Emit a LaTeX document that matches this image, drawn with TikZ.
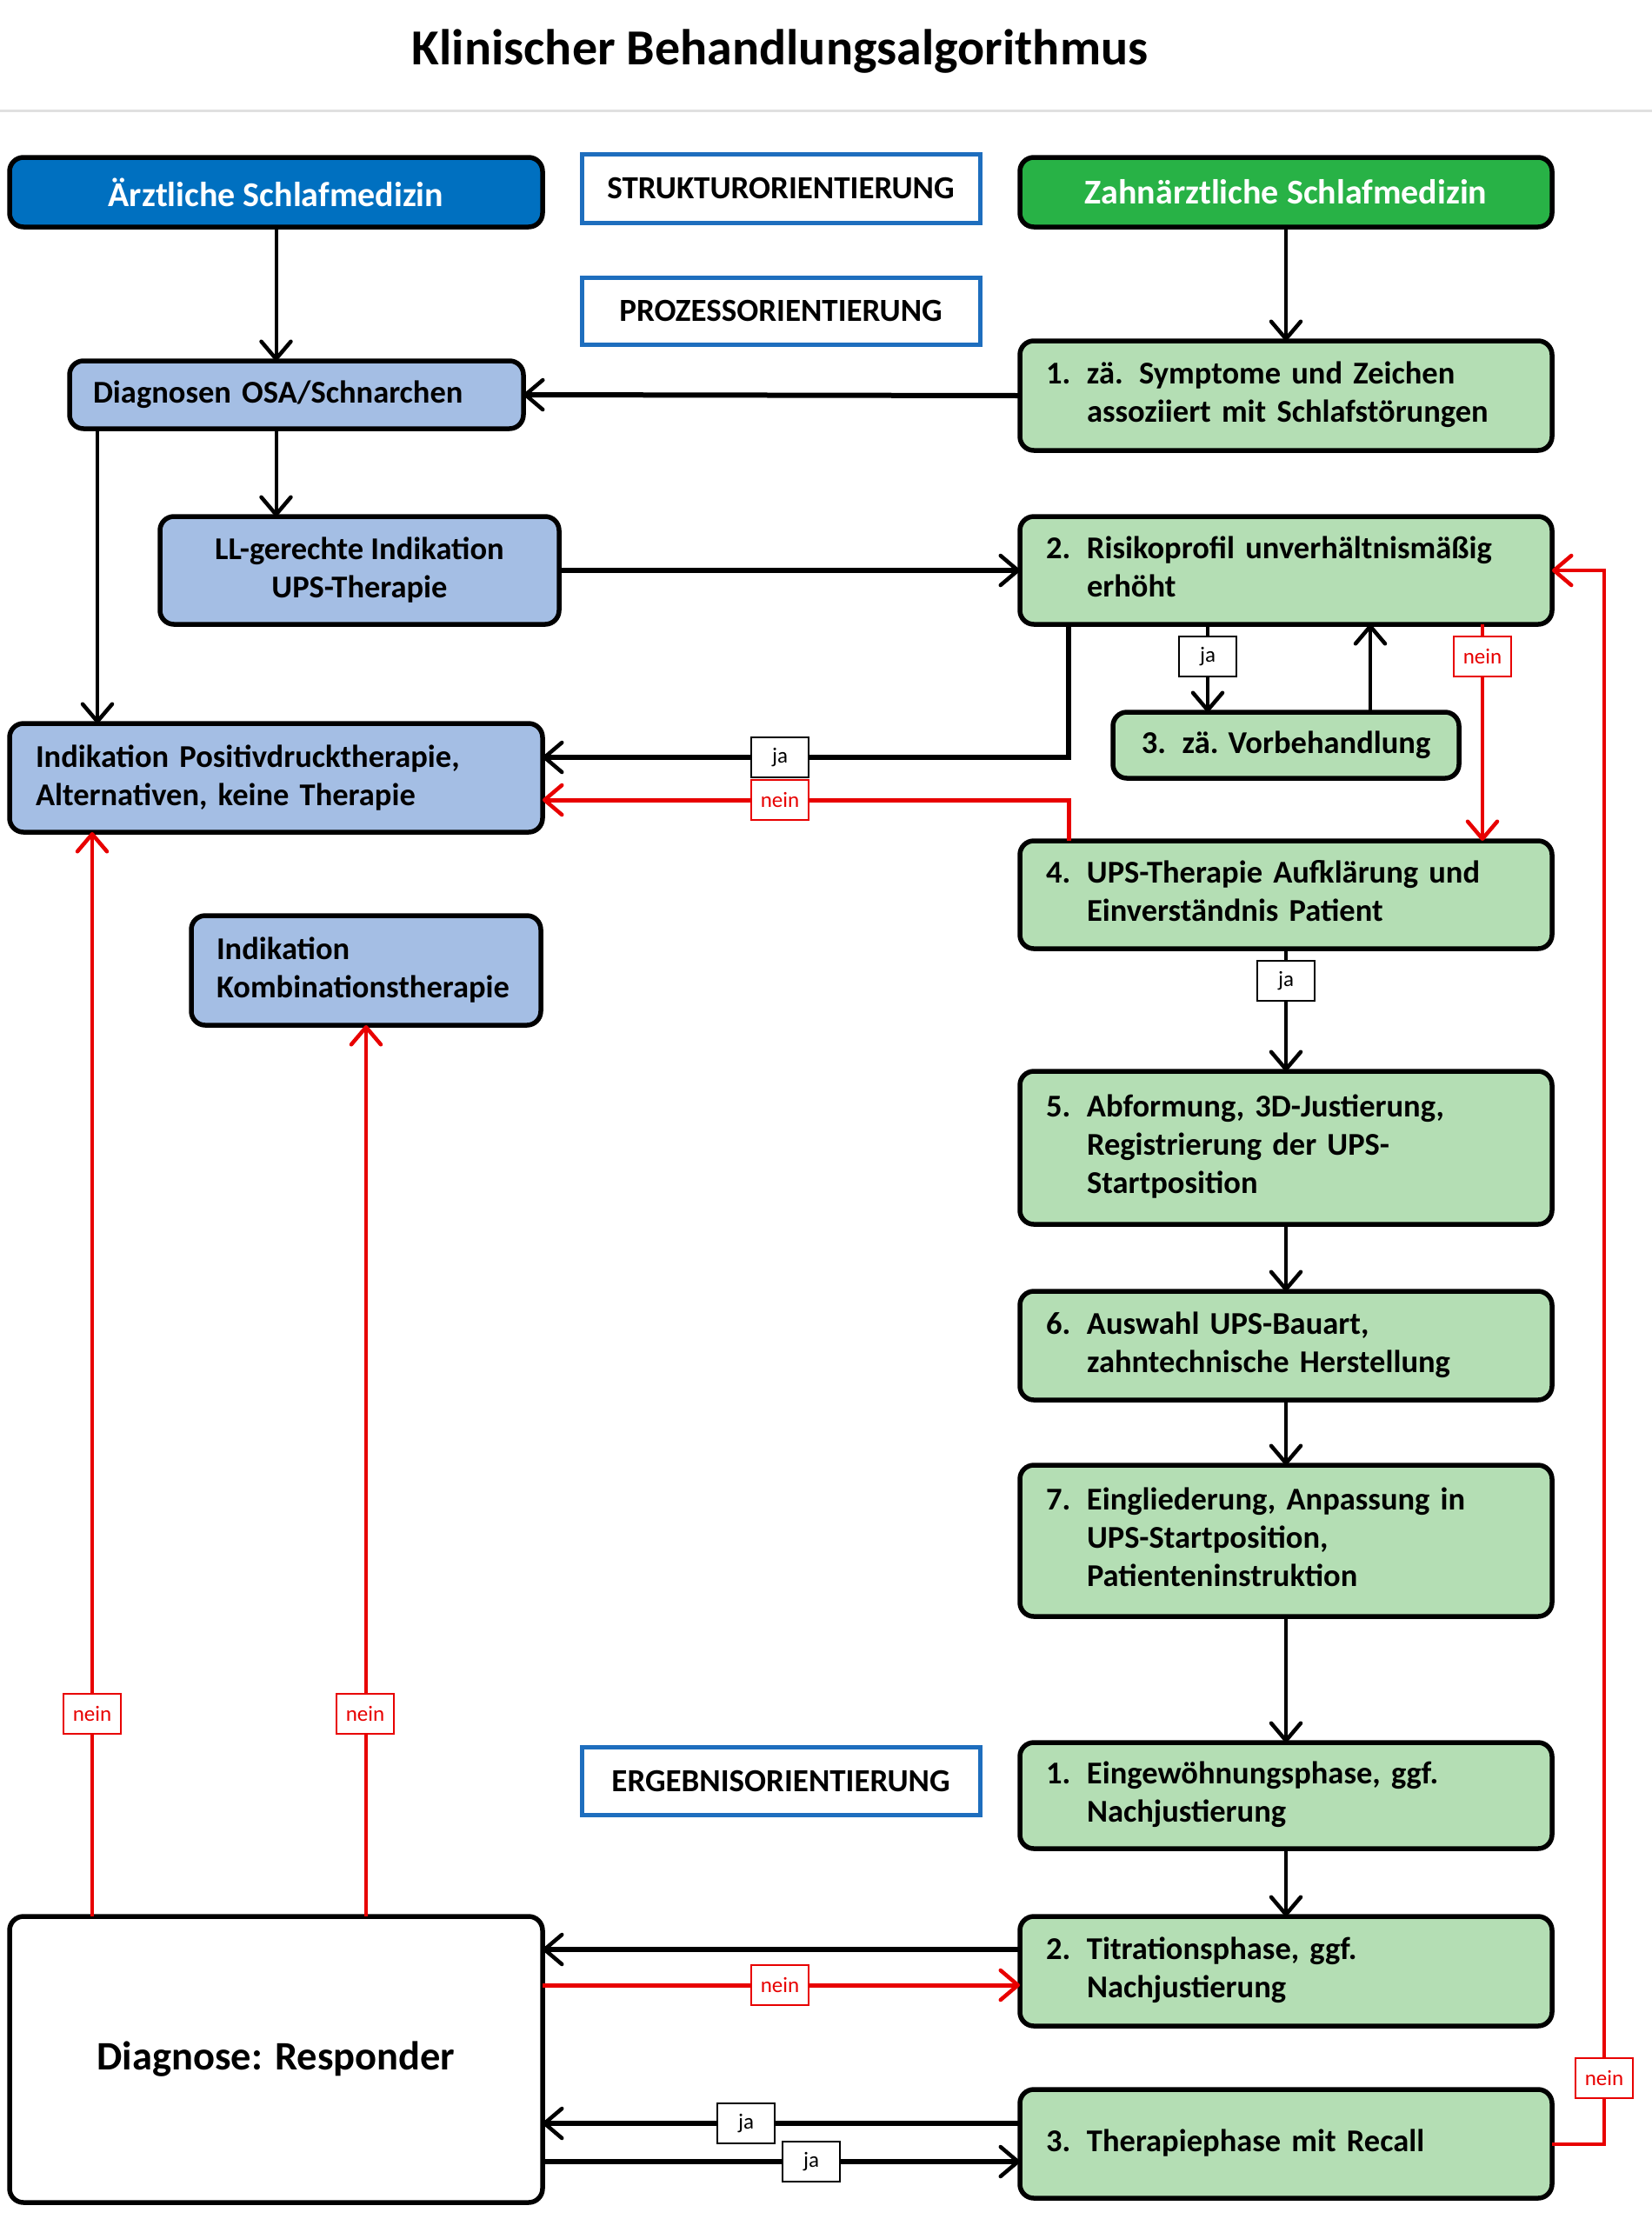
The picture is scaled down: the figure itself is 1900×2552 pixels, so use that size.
\documentclass[tikz,border=0pt]{standalone}
\usepackage{fontspec}
\setmainfont{Carlito}
\usetikzlibrary{arrows.meta,calc}
\definecolor{dblue}{RGB}{0,112,192}
\definecolor{lblue}{RGB}{164,190,228}
\definecolor{dgreen}{RGB}{40,178,70}
\definecolor{lgreen}{RGB}{180,222,180}
\definecolor{frblue}{RGB}{30,110,190}
\definecolor{rred}{RGB}{232,0,0}
\newcommand\numtxt[2]{\makebox[47pt][l]{#1}\begin{tabular}[t]{@{}l@{}}#2\end{tabular}}
\tikzset{
  box/.style={draw=black, line width=5.5pt, rounded corners=16pt, inner sep=0pt, outer sep=0pt,
    font=\fontsize{36.5}{44}\selectfont\bfseries},
  gbox/.style={box, fill=lgreen, minimum width=612pt, text width=552pt, align=left},
  bbox/.style={box, fill=lblue},
  hbox/.style={draw=frblue, line width=5pt, fill=white, inner sep=0pt, outer sep=0pt,
    minimum width=458pt, font=\fontsize{37}{42}\selectfont\bfseries},
  arr/.style={line width=4pt, -{Straight Barb[length=20pt,width=34pt,line width=4.5pt,round]}},
  arrT/.style={arr, line width=6pt},
  arrR/.style={arr, draw=rred, line width=3.5pt},
  arrRT/.style={arr, draw=rred, line width=5pt},
  lab/.style={draw=black, line width=2pt, fill=white, minimum width=66pt, minimum height=46pt,
    inner sep=0pt, font=\fontsize{25}{25}\selectfont},
  nlab/.style={lab, draw=rred, text=rred},
}
\begin{document}
\begin{tikzpicture}[x=1pt,y=-1pt]
\useasboundingbox[fill=white] (0,0) rectangle (1900,2552);
\node[font=\fontsize{58}{58}\selectfont\bfseries] (title) at (897,59) {Klinischer Behandlungsalgorithmus};
\draw[black!12, line width=3pt] (0,127) -- (1900,127);

% headers
\node[box, fill=dblue, text=white, minimum width=613pt, minimum height=80pt, font=\fontsize{40}{44}\selectfont\bfseries] (aerzt) at (317.5,221) {Ärztliche Schlafmedizin};
\node[box, fill=dgreen, text=white, minimum width=612pt, minimum height=80pt, font=\fontsize{40}{44}\selectfont\bfseries] (zahn) at (1479,221) {Zahnärztliche Schlafmedizin};
\node[hbox, minimum height=79pt] (strukt) at (898,216.5) {STRUKTURORIENTIERUNG};
\node[hbox, minimum height=77pt] (prozess) at (898,357.5) {PROZESSORIENTIERUNG};
\node[hbox, minimum height=78pt] (ergeb) at (898,2048) {ERGEBNISORIENTIERUNG};

% left column
\node[bbox, minimum width=522pt, minimum height=78pt, text width=468pt, align=left] (diag) at (341,454) {Diagnosen OSA/Schnarchen};
\node[bbox, minimum width=459pt, minimum height=124pt, align=center] (ll) at (413.5,656) {LL-gerechte Indikation\\UPS-Therapie};
\node[bbox, minimum width=613pt, minimum height=125pt, text width=553pt, align=left] (pos) at (317.5,894.5) {Indikation Positivdrucktherapie,\\Alternativen, keine Therapie};
\node[bbox, minimum width=402pt, minimum height=126pt, text width=344pt, align=left] (kombi) at (421,1116) {Indikation\\Kombinationstherapie};
\node[box, fill=white, minimum width=613pt, minimum height=329pt, font=\fontsize{46.5}{52}\selectfont\bfseries] (resp) at (317.5,2368.5) {Diagnose: Responder};

% right column
\node[gbox, minimum height=126pt] (s1) at (1479,455) {\numtxt{1.}{zä. Symptome und Zeichen\\assoziiert mit Schlafstörungen}};
\node[gbox, minimum height=124pt] (s2) at (1479,656) {\numtxt{2.}{Risikoprofil unverhältnismäßig\\erhöht}};
\node[box, fill=lgreen, minimum width=398pt, minimum height=76pt] (s3) at (1479,857) {\makebox[47pt][l]{3.}zä. Vorbehandlung};
\node[gbox, minimum height=124pt] (s4) at (1479,1029) {\numtxt{4.}{UPS-Therapie Aufklärung und\\Einverständnis Patient}};
\node[gbox, minimum height=176pt] (s5) at (1479,1320) {\numtxt{5.}{Abformung, 3D-Justierung,\\Registrierung der UPS-\\Startposition}};
\node[gbox, minimum height=125pt] (s6) at (1479,1547.5) {\numtxt{6.}{Auswahl UPS-Bauart,\\zahntechnische Herstellung}};
\node[gbox, minimum height=174pt] (s7) at (1479,1772) {\numtxt{7.}{Eingliederung, Anpassung in\\UPS-Startposition,\\Patienteninstruktion}};
\node[gbox, minimum height=122pt] (e1) at (1479,2065) {\numtxt{1.}{Eingewöhnungsphase, ggf.\\Nachjustierung}};
\node[gbox, minimum height=126pt] (t2) at (1479,2267) {\numtxt{2.}{Titrationsphase, ggf.\\Nachjustierung}};
\node[gbox, minimum height=125pt] (r3) at (1479,2465.5) {\numtxt{3.}{Therapiephase mit Recall}};

% helper coordinates
\coordinate (cA) at (112,0);
\coordinate (cJ) at (1229,871);
\coordinate (cN) at (1229,920);
\coordinate (c23) at (1389,0);
\coordinate (c32) at (1576,0);
\coordinate (c24) at (1705,0);
\coordinate (cR) at (1845,0);
\coordinate (cRp) at (106,0);
\coordinate (yT1) at (0,2242);
\coordinate (yT2) at (0,2283);
\coordinate (yJ1) at (0,2442);
\coordinate (yJ2) at (0,2486);

% connectors
\draw[arr] (aerzt.south) -- (aerzt.south |- diag.north);
\draw[arr] (zahn.south) -- (s1.north);
\draw[arrT] (s1.west) -- (diag.east);
\draw[arr] (diag.south -| aerzt.south) -- (ll.north -| aerzt.south);
\draw[arr] (diag.south -| cA) -- (pos.north -| cA);
\draw[arrT] (ll.east) -- (s2.west);
\draw[arrT] (s2.south -| cJ) -- (cJ) -- (pos.east |- cJ);
\draw[arr] (s2.south -| c23) -- (s3.north -| c23);
\draw[arr] (s3.north -| c32) -- (s2.south -| c32);
\draw[arrR] (s2.south -| c24) -- (s4.north -| c24);
\draw[arrRT] (s4.north -| cN) -- (cN) -- (pos.east |- cN);
\draw[arr] (s4.south) -- (s5.north);
\draw[arr] (s5.south) -- (s6.north);
\draw[arr] (s6.south) -- (s7.north);
\draw[arr] (s7.south) -- (e1.north);
\draw[arr] (e1.south) -- (t2.north);
\draw[arrT] (t2.west |- yT1) -- (resp.east |- yT1);
\draw[arrRT] (resp.east |- yT2) -- (t2.west |- yT2);
\draw[arrT] (r3.west |- yJ1) -- (resp.east |- yJ1);
\draw[arrT] (resp.east |- yJ2) -- (r3.west |- yJ2);
\draw[arrR, line width=4pt] (r3.east) -- (r3.east -| cR) -- (cR |- s2.east) -- (s2.east);
\draw[arrR] (resp.north -| cRp) -- (pos.south -| cRp);
\draw[arrR] (resp.north -| kombi.south) -- (kombi.south);

% labels
\node[lab] (l1) at (897,871) {ja};
\node[nlab] (l2) at (897,920) {nein};
\node[lab] (l3) at (1389,755) {ja};
\node[nlab] (l4) at (1705,755) {nein};
\node[lab] (l5) at (1479,1128) {ja};
\node[nlab] (l6) at (106,1971) {nein};
\node[nlab] (l7) at (420,1971) {nein};
\node[nlab] (l8) at (897,2283) {nein};
\node[lab] (l9) at (858,2442) {ja};
\node[lab] (l10) at (933,2486) {ja};
\node[nlab] (l11) at (1845,2390) {nein};
\end{tikzpicture}
\end{document}
